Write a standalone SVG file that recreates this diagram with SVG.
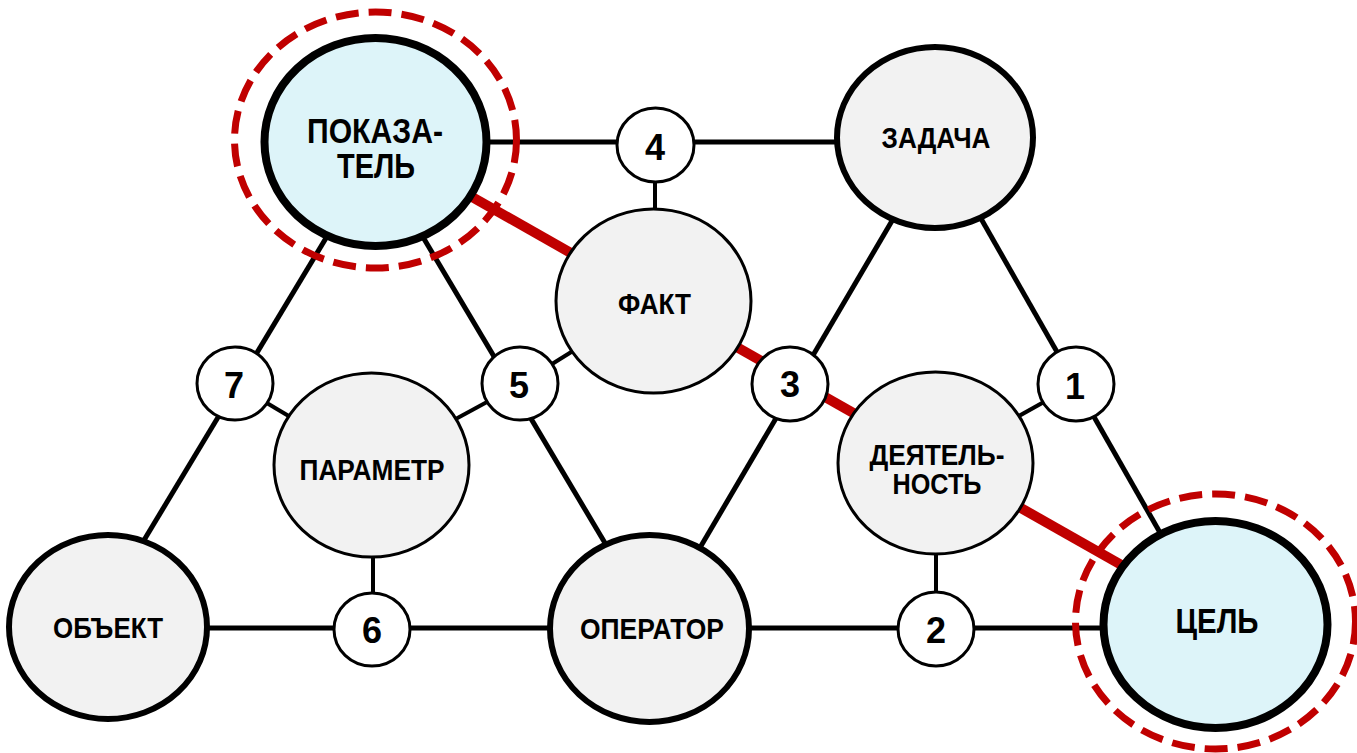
<svg xmlns="http://www.w3.org/2000/svg" width="1357" height="753" viewBox="0 0 1357 753">
  <style>
    .hub { fill: #f2f2f2; stroke: #000; stroke-width: 6; }
    .key { fill: #ddf4f9; stroke: #000; stroke-width: 8; }
    .sub { fill: #f2f2f2; stroke: #000; stroke-width: 3; }
    .num { fill: #ffffff; stroke: #000; stroke-width: 3; }
    .ring { fill: none; stroke: #c00000; stroke-width: 7; stroke-dasharray: 23 10; }
    .link { stroke: #000; stroke-width: 5; fill: none; }
    .thin { stroke: #000; stroke-width: 4; fill: none; }
    .path { stroke: #c00000; stroke-width: 10; fill: none; }
    .lbl { font-family: "Liberation Sans", Arial, sans-serif; font-weight: bold; font-size: 30px; text-anchor: middle; fill: #000; }
    .big { font-size: 35px; }
    .two { font-size: 29px; }
    .digit { font-size: 36px; }
  </style>
  <rect width="1357" height="753" fill="#ffffff"/>

  <!-- connectors -->
  <g id="connectors">
    <line class="path" x1="375" y1="142" x2="1215" y2="618"/>
    <line class="link" x1="375" y1="142" x2="935" y2="142"/>
    <line class="link" x1="108" y1="628" x2="1215" y2="628"/>
    <line class="link" x1="361" y1="180" x2="120" y2="580"/>
    <line class="link" x1="389" y1="180" x2="627" y2="580"/>
    <line class="link" x1="916" y1="180" x2="681" y2="580"/>
    <line class="link" x1="959" y1="180" x2="1187" y2="580"/>
    <line class="thin" x1="655" y1="145" x2="655" y2="301"/>
    <line class="thin" x1="235" y1="384" x2="371" y2="465"/>
    <line class="thin" x1="520" y1="384" x2="371" y2="465"/>
    <line class="thin" x1="520" y1="384" x2="653" y2="301"/>
    <line class="thin" x1="373" y1="629" x2="373" y2="465"/>
    <line class="thin" x1="1076" y1="384" x2="935" y2="463"/>
    <line class="thin" x1="936" y1="629" x2="936" y2="463"/>
  </g>

  <!-- main concepts -->
  <g id="pokazatel">
    <ellipse class="key" cx="375.5" cy="142" rx="111" ry="104"/>
    <ellipse class="ring" cx="375.5" cy="140" rx="141" ry="128"/>
    <text class="lbl big" x="375" y="143" textLength="136" lengthAdjust="spacingAndGlyphs">ПОКАЗА-</text>
    <text class="lbl big" x="376" y="178" textLength="78" lengthAdjust="spacingAndGlyphs">ТЕЛЬ</text>
  </g>
  <g id="zadacha">
    <ellipse class="hub" cx="935" cy="137.5" rx="98" ry="90.5"/>
    <text class="lbl" x="936" y="148" textLength="109" lengthAdjust="spacingAndGlyphs">ЗАДАЧА</text>
  </g>
  <g id="fakt">
    <ellipse class="sub" cx="653.5" cy="301" rx="97.5" ry="92"/>
    <text class="lbl" x="654.5" y="314" textLength="73" lengthAdjust="spacingAndGlyphs">ФАКТ</text>
  </g>
  <g id="parametr">
    <ellipse class="sub" cx="371.5" cy="465" rx="97.5" ry="92"/>
    <text class="lbl" x="372" y="480" textLength="145" lengthAdjust="spacingAndGlyphs">ПАРАМЕТР</text>
  </g>
  <g id="deyatelnost">
    <ellipse class="sub" cx="935.5" cy="463" rx="97.5" ry="91"/>
    <text class="lbl two" x="937" y="465" textLength="135" lengthAdjust="spacingAndGlyphs">ДЕЯТЕЛЬ-</text>
    <text class="lbl two" x="937" y="494" textLength="89" lengthAdjust="spacingAndGlyphs">НОСТЬ</text>
  </g>
  <g id="obekt">
    <ellipse class="hub" cx="108" cy="627" rx="99" ry="92"/>
    <text class="lbl" x="108" y="638" textLength="110" lengthAdjust="spacingAndGlyphs">ОБЪЕКТ</text>
  </g>
  <g id="operator">
    <ellipse class="hub" cx="649.5" cy="628.5" rx="99.5" ry="93.5"/>
    <text class="lbl" x="652" y="639" textLength="144" lengthAdjust="spacingAndGlyphs">ОПЕРАТОР</text>
  </g>
  <g id="cel">
    <ellipse class="key" cx="1215.5" cy="624.5" rx="112" ry="103.5"/>
    <ellipse class="ring" cx="1215.5" cy="621.5" rx="140" ry="127.5"/>
    <text class="lbl big" x="1217" y="633" textLength="83" lengthAdjust="spacingAndGlyphs">ЦЕЛЬ</text>
  </g>

  <!-- numbered junctions -->
  <g id="n1">
    <ellipse class="num" cx="1076" cy="384" rx="38" ry="37"/>
    <text class="lbl digit" x="1075" y="399">1</text>
  </g>
  <g id="n2">
    <ellipse class="num" cx="936" cy="629" rx="38" ry="37"/>
    <text class="lbl digit" x="936" y="643">2</text>
  </g>
  <g id="n3">
    <ellipse class="num" cx="790" cy="384" rx="38" ry="37"/>
    <text class="lbl digit" x="790" y="397">3</text>
  </g>
  <g id="n4">
    <ellipse class="num" cx="655.5" cy="145" rx="38.5" ry="37"/>
    <text class="lbl digit" x="655" y="160">4</text>
  </g>
  <g id="n5">
    <ellipse class="num" cx="520" cy="383.5" rx="38" ry="36.5"/>
    <text class="lbl digit" x="519" y="398">5</text>
  </g>
  <g id="n6">
    <ellipse class="num" cx="372" cy="629.5" rx="38" ry="36.5"/>
    <text class="lbl digit" x="372" y="643">6</text>
  </g>
  <g id="n7">
    <ellipse class="num" cx="235" cy="383.5" rx="38" ry="36.5"/>
    <text class="lbl digit" x="234" y="398">7</text>
  </g>
</svg>
